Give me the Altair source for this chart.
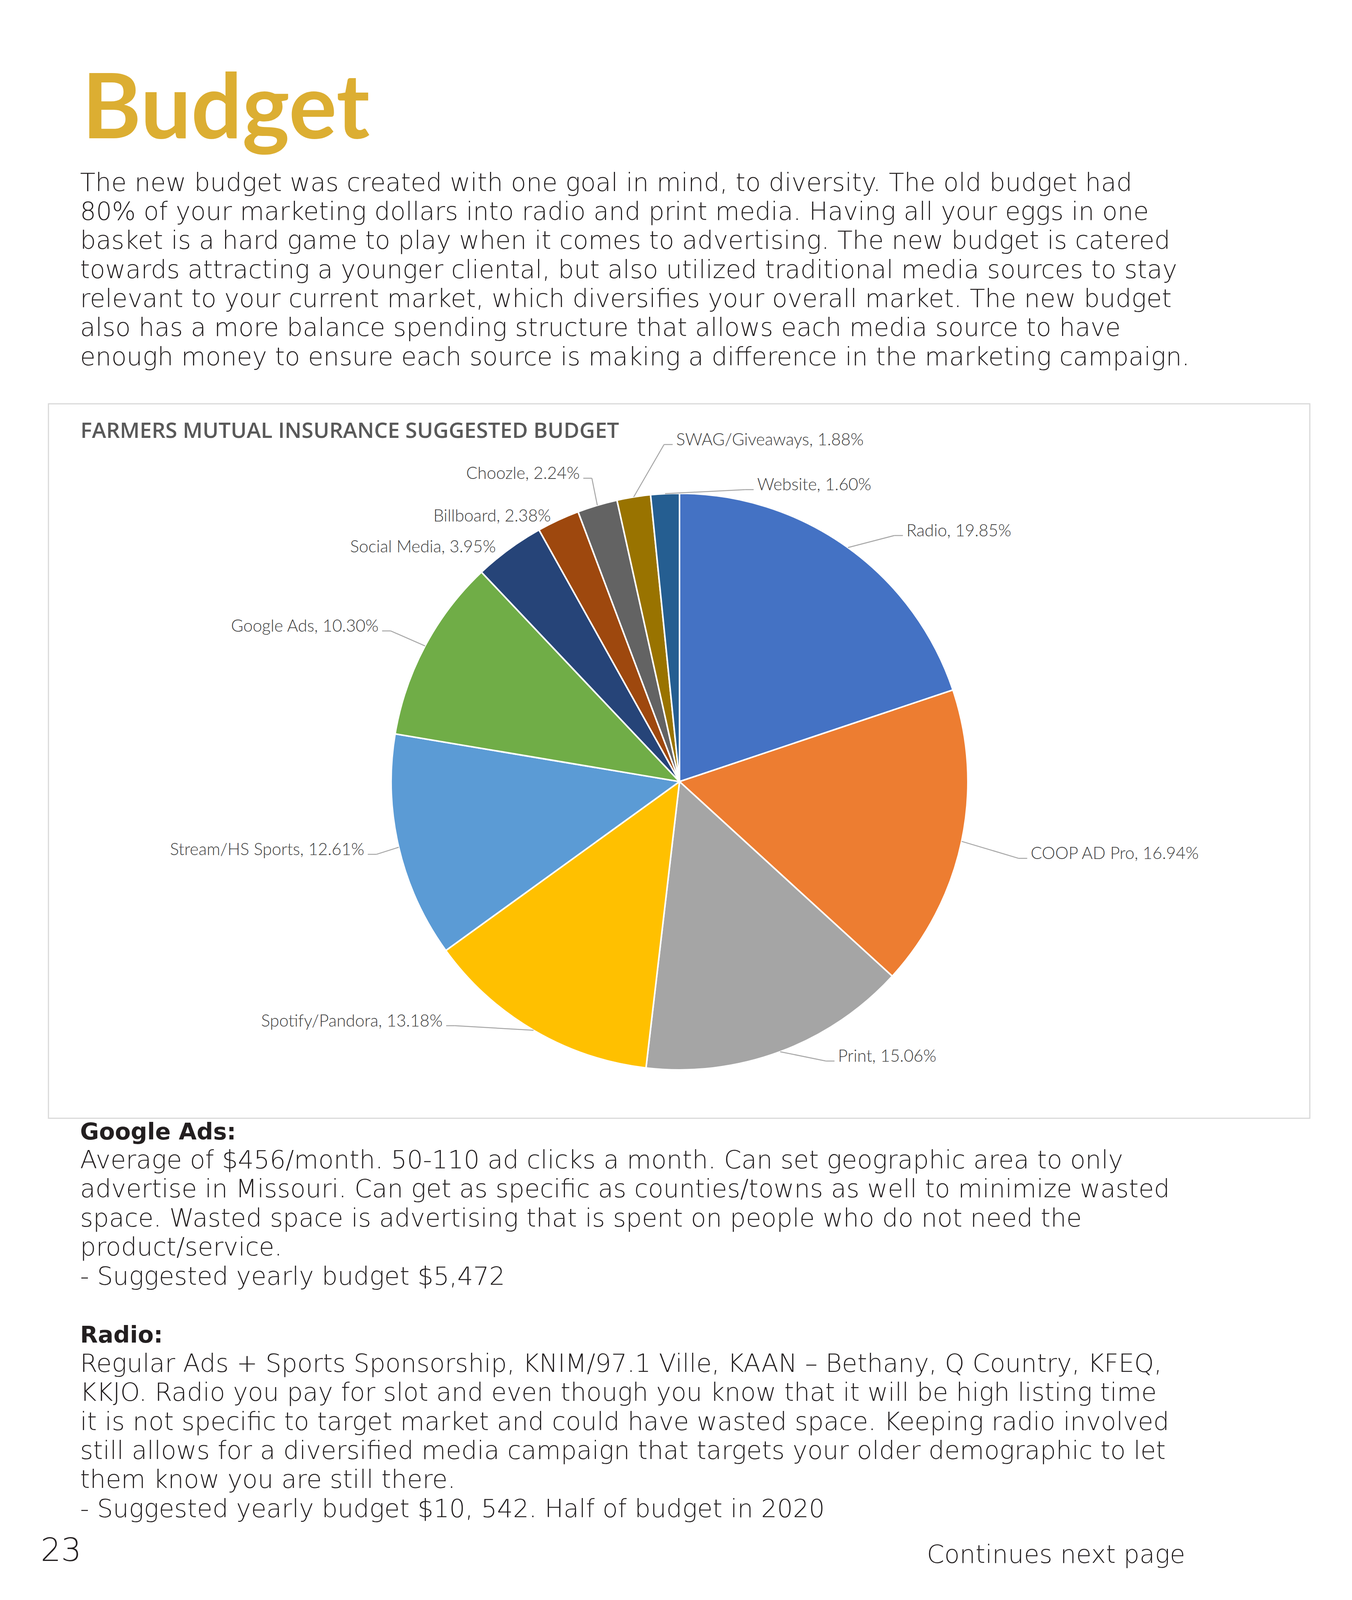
import altair as alt
import pandas as pd

# ---------------- data ----------------
categories = ["Radio", "COOP AD Pro", "Print", "Spotify/Pandora", "Stream/HS Sports",
              "Google Ads", "Social Media", "Billboard", "Choozle", "SWAG/Giveaways", "Website"]
shares = [19.85, 16.94, 15.06, 13.18, 12.61, 10.30, 3.95, 2.38, 2.24, 1.88, 1.60]
colors = ["#4472C4", "#ED7D31", "#A5A5A5", "#FFC000", "#5B9BD5", "#70AD47",
          "#264478", "#9E480E", "#636363", "#997300", "#255E91"]

page_title = "Budget"
intro_lines = [
    "The new budget was created with one goal in mind, to diversity. The old budget had",
    "80% of your marketing dollars into radio and print media. Having all your eggs in one",
    "basket is a hard game to play when it comes to advertising. The new budget is catered",
    "towards attracting a younger cliental, but also utilized traditional media sources to stay",
    "relevant to your current market, which diversifies your overall market. The new budget",
    "also has a more balance spending structure that allows each media source to have",
    "enough money to ensure each source is making a difference in the marketing campaign.",
]
chart_title = "FARMERS MUTUAL INSURANCE SUGGESTED BUDGET"
google_heading = "Google Ads:"
google_lines = [
    "Average of $456/month. 50-110 ad clicks a month. Can set geographic area to only",
    "advertise in Missouri. Can get as specific as counties/towns as well to minimize wasted",
    "space. Wasted space is advertising that is spent on people who do not need the",
    "product/service.",
    "- Suggested yearly budget $5,472",
]
radio_heading = "Radio:"
radio_lines = [
    "Regular Ads + Sports Sponsorship, KNIM/97.1 Ville, KAAN \u2013 Bethany, Q Country, KFEQ,",
    "KKJO. Radio you pay for slot and even though you know that it will be high listing time",
    "it is not specific to target market and could have wasted space. Keeping radio involved",
    "still allows for a diversified media campaign that targets your older demographic to let",
    "them know you are still there.",
    "- Suggested yearly budget $10, 542. Half of budget in 2020",
]
page_number = "23"
footer_text = "Continues next page"

# ---------------- layout ----------------
# The photographed area is about 4096 px tall, so the page's vertical layout
# is compressed to fit it; horizontal positions are kept.
OFF = 8
VIS_H = 4096
K = VIS_H / 4477.0
W, H = 3460 - 2 * OFF, VIS_H - 2 * OFF


def P(v):          # horizontal page px -> chart px
    return v - OFF


def SY(v):         # vertical page px (reference) -> chart px
    return v * K - OFF


CX, CY = 1739, 2187
R = 738            # pie radius
label_angle = [38.6, 103.9, 154.4, 220.1, 255.3, 299.7, 325.7, 337.8, 345.2, 357.6, 11.6]
label_radius = [881, 894, 867, 893, 802, 851, 779, 789, 878, 944, 834]
label_side = [1, 1, 1, -1, -1, -1, -1, -1, -1, 1, 1]
label_leader = [1, 1, 1, 1, 1, 1, 0, 0, 1, 1, 1]

BODY_FONT = "DejaVu Sans"
BODY_SIZE = 64
BODY_WEIGHT = 200
BODY_COLOR = "#231F20"
HEAD_SIZE = 59
LINE = 81.3

pie_df = pd.DataFrame({
    "category": categories, "share": shares, "idx": list(range(len(categories))),
    "la": label_angle, "lr": label_radius, "side": label_side, "leader": label_leader,
})

box = alt.Chart(pd.DataFrame({"k": [0]})).mark_rect(
    fill="white", stroke="#D9D9D9", strokeWidth=3
).encode(
    x=alt.value(P(124)), x2=alt.value(P(3352)), y=alt.value(SY(1130)), y2=alt.value(SY(3129))
)

pie = alt.Chart(pie_df).mark_arc(radius=R, stroke="white", strokeWidth=4).encode(
    theta=alt.Theta("share:Q", stack=True),
    color=alt.Color("category:N", scale=alt.Scale(domain=categories, range=colors), legend=None),
    order=alt.Order("idx:Q", sort="ascending"),
    x=alt.value(P(CX)),
    y=alt.value(SY(CY)),
)

geo = alt.Chart(pie_df).transform_window(
    cum="sum(share)", sort=[alt.SortField("idx")], frame=[None, 0]
).transform_joinaggregate(
    total="sum(share)"
).transform_calculate(
    mid="(datum.cum - datum.share / 2) / datum.total * 2 * PI",
    ex=f"{P(CX)} + {R} * sin(datum.mid)",
    ey=f"{SY(CY)} - {R} * cos(datum.mid)",
    lx=f"{P(CX)} + datum.lr * sin(datum.la * PI / 180)",
    ly=f"{SY(CY)} - datum.lr * cos(datum.la * PI / 180) * {K}",
    hx="datum.lx + datum.side * 22",
    tx="datum.lx + datum.side * 31",
    ty="datum.ly + 2",
    label="datum.category + ', ' + format(datum.share, '.2f') + '%'",
)

XN = dict(scale=None, axis=None)
lead_color = "#A6A6A6"
leader_diag = geo.transform_filter("datum.leader == 1").mark_rule(
    color=lead_color, strokeWidth=2.5
).encode(x=alt.X("ex:Q", **XN), y=alt.Y("ey:Q", **XN), x2="lx:Q", y2="ly:Q")
leader_h = geo.transform_filter("datum.leader == 1").mark_rule(
    color=lead_color, strokeWidth=2.5
).encode(x=alt.X("lx:Q", **XN), y=alt.Y("ly:Q", **XN), x2="hx:Q", y2="ly:Q")
LABEL_STYLE = dict(font="Lato", fontSize=43, fontWeight=300, color="#404040", baseline="alphabetic")
labels_r = geo.transform_filter("datum.side == 1").mark_text(align="left", **LABEL_STYLE).encode(
    x=alt.X("tx:Q", **XN), y=alt.Y("ty:Q", **XN), text="label:N")
labels_l = geo.transform_filter("datum.side == -1").mark_text(align="right", **LABEL_STYLE).encode(
    x=alt.X("tx:Q", **XN), y=alt.Y("ty:Q", **XN), text="label:N")


def lines_df(lines, first_baseline):
    return pd.DataFrame({"text": lines,
                         "y": [SY(first_baseline + i * LINE) for i in range(len(lines))]})


def one_df(text, baseline):
    return pd.DataFrame({"text": [text], "y": [SY(baseline)]})


def text_layer(df, x, size, weight, color, font=BODY_FONT, align="left"):
    return alt.Chart(df).mark_text(
        align=align, baseline="alphabetic", font=font, fontSize=size,
        fontWeight=weight, color=color
    ).encode(x=alt.value(P(x)), y=alt.Y("y:Q", **XN), text="text:N")


title_l = text_layer(one_df(page_title, 387), 210, 230, 700, "#DCAE32", font="Lato")
intro_l = text_layer(lines_df(intro_lines, 534), 205, BODY_SIZE, BODY_WEIGHT, BODY_COLOR)
ctitle_l = text_layer(one_df(chart_title, 1225), 206, 55, 600, "#595959", font="Open Sans")
gh_l = text_layer(one_df(google_heading, 3188), 205, HEAD_SIZE, 700, BODY_COLOR)
g_l = text_layer(lines_df(google_lines, 3188 + LINE), 205, BODY_SIZE, BODY_WEIGHT, BODY_COLOR)
rh_y = 3188 + LINE * 7
rh_l = text_layer(one_df(radio_heading, rh_y), 205, HEAD_SIZE, 700, BODY_COLOR)
r_l = text_layer(lines_df(radio_lines, rh_y + LINE), 205, BODY_SIZE, BODY_WEIGHT, BODY_COLOR)
pn_l = text_layer(one_df(page_number, 4368), 104, 82, BODY_WEIGHT, BODY_COLOR)
ft_l = text_layer(one_df(footer_text, 4373), 2372, BODY_SIZE, BODY_WEIGHT, BODY_COLOR)

chart = alt.layer(
    box, pie, leader_diag, leader_h, labels_r, labels_l,
    title_l, intro_l, ctitle_l, gh_l, g_l, rh_l, r_l, pn_l, ft_l
).properties(
    width=W, height=H, padding=0, background="white"
).configure_view(strokeWidth=0)

chart.save("out.html", embed_options={"renderer": "svg", "actions": False})
